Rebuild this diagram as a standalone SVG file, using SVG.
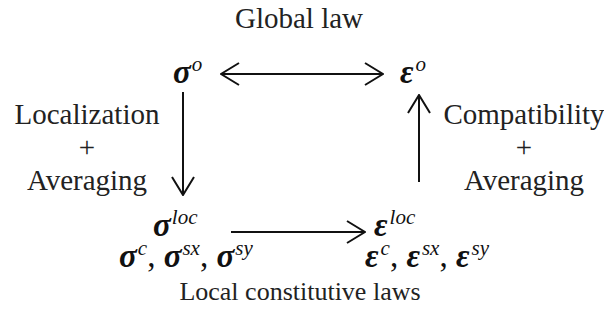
<svg xmlns="http://www.w3.org/2000/svg" width="604" height="325" viewBox="0 0 604 325">
<style>
.lbl{font-size:29px;fill:#222;text-anchor:middle}
.m{font-size:33px;fill:#111}
.b{font-weight:bold;font-style:italic}
.s{font-style:italic;font-size:21px}
.c{font-size:26px}
.ln{stroke:#111;stroke-width:2;fill:none}
</style>
<defs>
<marker id="ah" viewBox="0 0 20 24" refX="19" refY="12" markerWidth="20" markerHeight="24" markerUnits="userSpaceOnUse" orient="auto-start-reverse">
<path d="M1,1 L19,12 L1,23" fill="none" stroke="#111" stroke-width="2"/>
</marker>
</defs>
<rect width="604" height="325" fill="#fff"/>
<g font-family="Liberation Serif, Times New Roman, serif">
<g id="title"><text class="lbl" x="299" y="28">Global law</text></g>
<g id="sigma-o"><text class="m" x="173" y="83"><tspan class="b">σ</tspan><tspan class="s" dx="1" dy="-12">o</tspan></text></g>
<g id="eps-o"><text class="m" x="400" y="83"><tspan class="b">ε</tspan><tspan class="s" dx="2" dy="-12">o</tspan></text></g>
<g id="left-label"><text class="lbl" x="87" y="124">Localization</text><text class="lbl" x="87" y="157">+</text><text class="lbl" x="87" y="190">Averaging</text></g>
<g id="right-label"><text class="lbl" x="524" y="124">Compatibility</text><text class="lbl" x="524" y="157">+</text><text class="lbl" x="524" y="190">Averaging</text></g>
<g id="sigma-loc"><text class="m" x="153" y="236"><tspan class="b">σ</tspan><tspan class="s" dx="1" dy="-12">loc</tspan></text>
<text class="m" x="119" y="267"><tspan class="b">σ</tspan><tspan class="s" dx="1" dy="-12">c</tspan><tspan dy="12">, </tspan><tspan class="b">σ</tspan><tspan class="s" dx="1" dy="-12">sx</tspan><tspan dy="12">, </tspan><tspan class="b">σ</tspan><tspan class="s" dx="1" dy="-12">sy</tspan></text></g>
<g id="eps-loc"><text class="m" x="374" y="236"><tspan class="b">ε</tspan><tspan class="s" dx="2" dy="-12">loc</tspan></text>
<text class="m" x="365" y="267"><tspan class="b">ε</tspan><tspan class="s" dx="2" dy="-12">c</tspan><tspan dy="12">, </tspan><tspan class="b">ε</tspan><tspan class="s" dx="2" dy="-12">sx</tspan><tspan dy="12">, </tspan><tspan class="b">ε</tspan><tspan class="s" dx="2" dy="-12">sy</tspan></text></g>
<g id="bottom-label"><text class="lbl c" x="300" y="300">Local constitutive laws</text></g>
</g>
<g id="connectors">
<line class="ln" x1="221" y1="74" x2="383" y2="74" marker-start="url(#ah)" marker-end="url(#ah)"/>
<line class="ln" x1="183" y1="92" x2="183" y2="195" marker-end="url(#ah)"/>
<line class="ln" x1="419" y1="182" x2="419" y2="95" marker-end="url(#ah)"/>
<line class="ln" x1="231" y1="232" x2="365" y2="232" marker-end="url(#ah)"/>
</g>
</svg>
